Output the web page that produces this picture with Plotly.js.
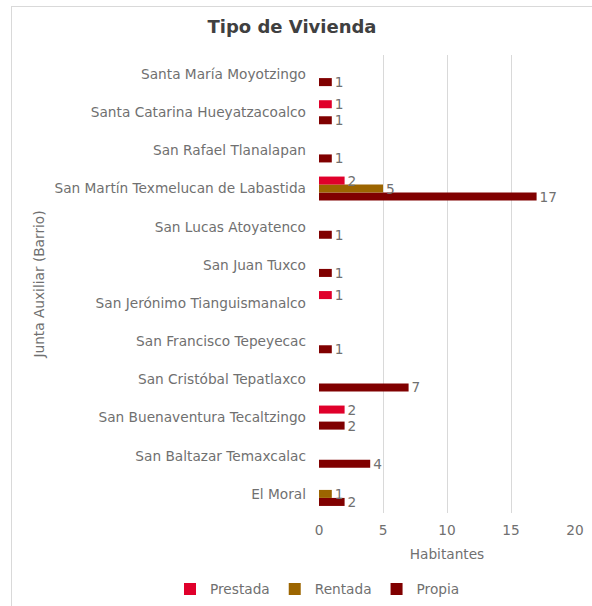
<!DOCTYPE html>
<html>
<head>
<meta charset="utf-8">
<script src="https://cdn.plot.ly/plotly-3.0.1.min.js"></script>
<style>
html,body{margin:0;padding:0;background:#fff;overflow:hidden;}
#frame{position:absolute;left:11px;top:6px;width:620px;height:640px;border:1px solid #d9d9d9;box-sizing:border-box;}
#chart{position:absolute;left:0;top:0;width:592px;height:606px;}
</style>
</head>
<body>
<div id="frame"></div>
<div id="chart"></div>
<script>
// Categories listed bottom to top
const categories = [
  "El Moral",
  "San Baltazar Temaxcalac",
  "San Buenaventura Tecaltzingo",
  "San Cristóbal Tepatlaxco",
  "San Francisco Tepeyecac",
  "San Jerónimo Tianguismanalco",
  "San Juan Tuxco",
  "San Lucas Atoyatenco",
  "San Martín Texmelucan de Labastida",
  "San Rafael Tlanalapan",
  "Santa Catarina Hueyatzacoalco",
  "Santa María Moyotzingo"
];
const prestada = [null, null, 2, null, null, 1, null, null, 2, null, 1, null];
const rentada  = [1, null, null, null, null, null, null, null, 5, null, null, null];
const propia   = [2, 4, 2, 7, 1, null, 1, 1, 17, 1, 1, 1];
const xTicks = [0, 5, 10, 15, 20];

const FONT = "DejaVu Sans, sans-serif";
const GRAY = "#707070";
const FS = 13.7;

function mk(name, vals, color, rank) {
  return {
    type: "bar", orientation: "h", name: name,
    y: categories, x: vals,
    marker: {color: color},
    text: vals.map(v => v == null ? "" : String(v)),
    textposition: "outside",
    textfont: {family: FONT, size: FS, color: GRAY},
    constraintext: "none",
    cliponaxis: false,
    legendrank: rank,
    hoverinfo: "x+y+name"
  };
}

const data = [
  mk("Propia", propia, "#800000", 3),
  mk("Rentada", rentada, "#9C6500", 2),
  mk("Prestada", prestada, "#E0002B", 1)
];

const PL = 319, PT = 55, PW = 256, PH = 458;

const layout = {
  width: 592, height: 606,
  paper_bgcolor: "rgba(0,0,0,0)", plot_bgcolor: "rgba(0,0,0,0)",
  margin: {l: PL, r: 17, t: PT, b: 93, autoexpand: false},
  font: {family: FONT, color: GRAY, size: FS},
  title: {
    text: "<b>Tipo de Vivienda</b>",
    font: {family: FONT, size: 18, color: "#404040"},
    x: 292/592, xref: "container", xanchor: "center",
    y: 1 - 27/606, yref: "container", yanchor: "middle"
  },
  barmode: "group", bargap: 0.37, bargroupgap: 0,
  xaxis: {
    range: [0, 20], tickvals: xTicks, ticktext: xTicks.map(String),
    showgrid: true, gridcolor: "#d9d9d9", gridwidth: 1,
    zeroline: false, showline: false, ticks: "",
    ticklabelstandoff: 7,
    tickfont: {family: FONT, size: FS, color: GRAY},
    title: {text: "Habitantes", font: {family: FONT, size: FS, color: GRAY}, standoff: 12},
    fixedrange: true
  },
  yaxis: {
    type: "category",
    categoryorder: "array", categoryarray: categories,
    showgrid: false, zeroline: false, showline: false, ticks: "",
    ticklabelstandoff: 12,
    tickfont: {family: FONT, size: FS, color: GRAY},
    title: {text: "Junta Auxiliar (Barrio)", font: {family: FONT, size: FS, color: GRAY}, standoff: 6},
    fixedrange: true
  },
  showlegend: true,
  legend: {
    orientation: "h", traceorder: "normal",
    x: (170 - PL) / PW, xref: "paper", xanchor: "left",
    y: (PT + PH - 589) / PH, yref: "paper", yanchor: "middle",
    font: {family: FONT, size: FS, color: GRAY},
    itemwidth: 30
  }
};

Plotly.newPlot("chart", data, layout, {displayModeBar: false, staticPlot: true});
</script>
</body>
</html>
